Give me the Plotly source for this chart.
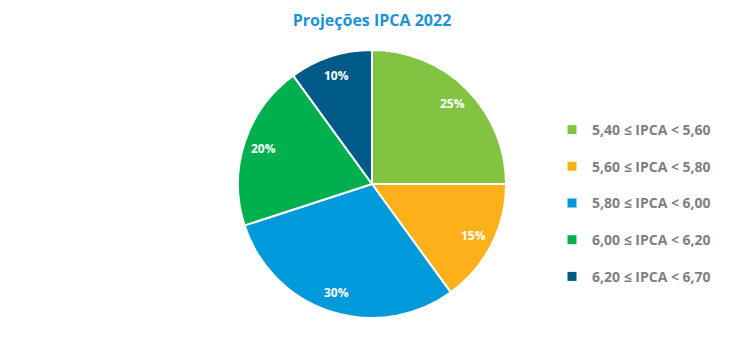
import math
import plotly.graph_objects as go

categories = ["5,40 ≤ IPCA < 5,60", "5,60 ≤ IPCA < 5,80", "5,80 ≤ IPCA < 6,00",
              "6,00 ≤ IPCA < 6,20", "6,20 ≤ IPCA < 6,70"]
values = [25, 15, 30, 20, 10]
colors = ["#82C341", "#FDB01A", "#0099DA", "#00B04F", "#005A87"]

W, H = 750, 355
cx, cy, R = 372, 184, 134  # pie centre and radius in pixels
dom_x = [(cx - R) / W, (cx + R) / W]
dom_y = [(H - cy - R) / H, (H - cy + R) / H]

fig = go.Figure()
fig.add_trace(go.Pie(
    labels=categories, values=values, sort=False, direction="clockwise",
    marker=dict(colors=colors, line=dict(color="white", width=2)),
    textinfo="none", showlegend=False, hoverinfo="label+percent",
    domain=dict(x=dom_x, y=dom_y),
))
for c, col in zip(categories, colors):
    fig.add_trace(go.Scatter(
        x=[None], y=[None], mode="markers", name="<b>" + c + "</b>", legendgroup=c,
        marker=dict(symbol="square", size=9, color=col),
    ))

# data labels placed along each slice's mid-angle
total = sum(values)
cum = 0
annotations = []
for v in values:
    mid = (cum + v / 2) / total * 2 * math.pi
    cum += v
    lx = cx + 0.85 * R * math.sin(mid)
    ly = cy - 0.85 * R * math.cos(mid)
    annotations.append(dict(
        x=lx / W, y=1 - ly / H, xref="paper", yref="paper", showarrow=False,
        xanchor="center", yanchor="middle",
        text="<b>%d%%</b>" % round(100 * v / total),
        font=dict(color="white", size=12, family="Open Sans"),
    ))

fig.update_layout(
    width=W, height=H, margin=dict(l=0, r=0, t=0, b=0),
    paper_bgcolor="white", plot_bgcolor="white",
    title=dict(text="<b>Projeções IPCA 2022</b>", x=372 / W, xanchor="center",
               y=1 - 20 / H, yanchor="middle",
               font=dict(size=16, color="#1B93D3", family="Open Sans")),
    xaxis=dict(visible=False), yaxis=dict(visible=False),
    annotations=annotations,
    legend=dict(x=552 / W, xanchor="left", y=1 - 203 / H, yanchor="middle",
                tracegroupgap=15.5, itemwidth=30,
                font=dict(size=14, color="#7F7F7F", family="Open Sans")),
)
fig.write_html("out.html")
